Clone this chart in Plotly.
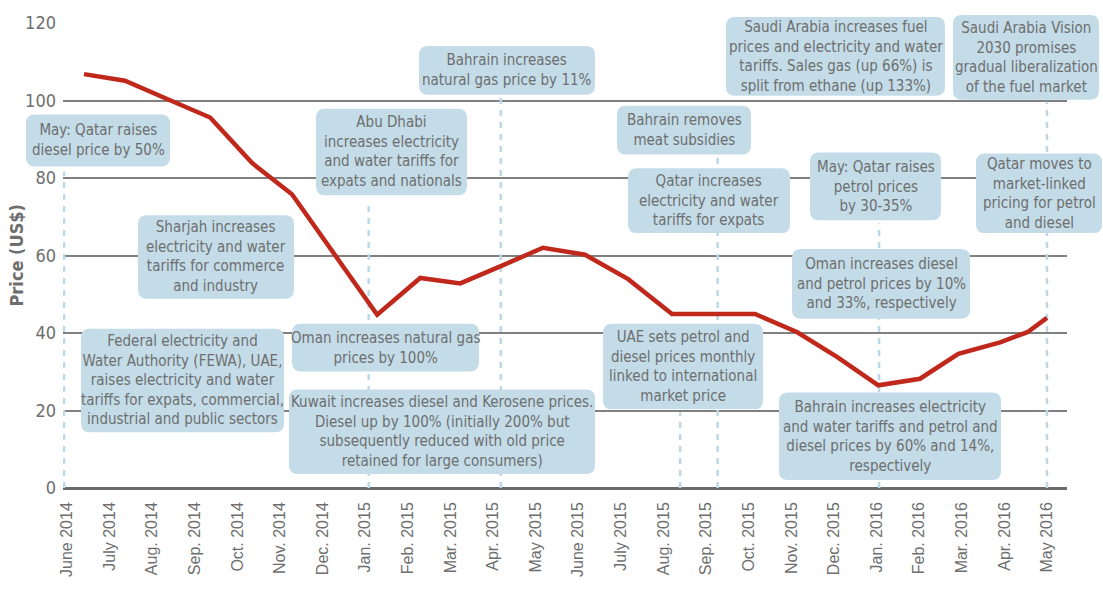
import plotly.graph_objects as go

# ---- data -------------------------------------------------------------
month_labels = [
    "June 2014", "July 2014", "Aug. 2014", "Sep. 2014", "Oct. 2014", "Nov. 2014",
    "Dec. 2014", "Jan. 2015", "Feb. 2015", "Mar. 2015", "Apr. 2015", "May 2015",
    "June 2015", "July 2015", "Aug. 2015", "Sep. 2015", "Oct. 2015", "Nov. 2015",
    "Dec. 2015", "Jan. 2016", "Feb. 2016", "Mar. 2016", "Apr. 2016", "May 2016",
]

# observation position (months after June 2014) and oil price, US$
obs_month = [0.40, 1.36, 2.35, 3.36, 4.34, 5.28, 6.33, 7.28, 8.29, 9.23, 10.21,
             11.17, 12.16, 13.17, 14.20, 15.17, 16.15, 17.14, 18.08, 19.04,
             20.02, 20.92, 21.90, 22.54, 23.00]
price = [106.8, 105.1, 100.4, 95.6, 83.9, 75.8, 59.5, 44.7, 54.2, 52.8, 57.4,
         62.0, 60.2, 53.9, 44.9, 44.9, 44.9, 40.2, 33.8, 26.5,
         28.2, 34.6, 37.6, 40.2, 43.9]

# policy event markers: month position and height of the guide line
event_month = [-0.07, 7.08, 10.18, 14.39, 15.27, 19.06, 23.00]
event_top = [81.7, 73.2, 101.0, 19.5, 85.6, 68.3, 99.7]

y_ticks = [0, 20, 40, 60, 80, 100, 120]

# callout texts with their box extents (left, right, top, bottom in px)
callouts = [
    ("May: Qatar raises<br>diesel price by 50%", (26, 170, 113, 165)),
    ("Sharjah increases<br>electricity and water<br>tariffs for commerce<br>and industry", (138, 294, 214, 298)),
    ("Federal electricity and<br>Water Authority (FEWA), UAE,<br>raises electricity and water<br>"
     "tariffs for expats, commercial,<br>industrial and public sectors", (81, 284, 328, 432)),
    ("Abu Dhabi<br>increases electricity<br>and water tariffs for<br>expats and nationals", (316, 467, 107, 194)),
    ("Bahrain increases<br>natural gas price by 11%", (419, 595, 44, 93)),
    ("Oman increases natural gas<br>prices by 100%", (292, 479, 323, 371)),
    ("Kuwait increases diesel and Kerosene prices.<br>Diesel up by 100% (initially 200% but<br>"
     "subsequently reduced with old price<br>retained for large consumers)", (289, 595, 389, 474)),
    ("Bahrain removes<br>meat subsidies", (617, 751, 104, 153)),
    ("Qatar increases<br>electricity and water<br>tariffs for expats", (628, 790, 167, 232)),
    ("Saudi Arabia increases fuel<br>prices and electricity and water<br>"
     "tariffs. Sales gas (up 66%) is<br>split from ethane (up 133%)", (726, 945, 15, 94)),
    ("Saudi Arabia Vision<br>2030 promises<br>gradual liberalization<br>of the fuel market", (953, 1099, 13, 98)),
    ("May: Qatar raises<br>petrol prices<br>by 30-35%", (810, 941, 151, 219)),
    ("Qatar moves to<br>market-linked<br>pricing for petrol<br>and diesel", (976, 1102, 152, 232)),
    ("Oman increases diesel<br>and petrol prices by 10%<br>and 33%, respectively", (792, 970, 248, 318)),
    ("UAE sets petrol and<br>diesel prices monthly<br>linked to international<br>market price", (603, 763, 323, 409)),
    ("Bahrain increases electricity<br>and water tariffs and petrol and<br>"
     "diesel prices by 60% and 14%,<br>respectively", (779, 1001, 392, 480)),
]

# ---- layout geometry ---------------------------------------------------
W, H = 1103, 595
ML, MR, MT, MB = 63, 36, 21, 107
PW, PH = W - ML - MR, H - MT - MB

RED = "#c0281c"
GRID = "#808080"
BOX = "#c3dce8"
GUIDE = "#bcd8e6"
TXT = "#6e6e6e"
NARROW = "Liberation Sans Narrow, Arial Narrow, DejaVu Sans Condensed, sans-serif"
SANS = "Liberation Sans, Arial, sans-serif"


def px(xp):
    return (xp - ML) / PW


def py(yp):
    return (H - MB - yp) / PH


def rounded_box(x0, x1, top, bottom, r=9):
    rx, ry = r / PW, r / PH
    a, b = px(x0), px(x1)
    lo, hi = py(bottom), py(top)
    return (f"M {a + rx},{lo} L {b - rx},{lo} Q {b},{lo} {b},{lo + ry} "
            f"L {b},{hi - ry} Q {b},{hi} {b - rx},{hi} L {a + rx},{hi} "
            f"Q {a},{hi} {a},{hi - ry} L {a},{lo + ry} Q {a},{lo} {a + rx},{lo} Z")


fig = go.Figure()
fig.add_trace(go.Scatter(
    x=obs_month, y=price, mode="lines",
    line=dict(color=RED, width=4.5), hoverinfo="skip", showlegend=False,
))

shapes = []
for m, top in zip(event_month, event_top):
    shapes.append(dict(type="line", xref="x", yref="y", x0=m, x1=m, y0=0, y1=top,
                       line=dict(color=GUIDE, width=2.5, dash="6px,6px"), layer="between"))

annotations = []
for text, (x0, x1, top, bottom) in callouts:
    shapes.append(dict(type="path", xref="paper", yref="paper",
                       path=rounded_box(x0, x1, top, bottom),
                       fillcolor=BOX, line=dict(width=0), layer="above"))
    annotations.append(dict(
        xref="paper", yref="paper", x=px((x0 + x1) / 2), y=py((top + bottom) / 2),
        text=text, showarrow=False, align="center", xanchor="center", yanchor="middle",
        font=dict(family=NARROW, size=15, color=TXT),
    ))

annotations.append(dict(
    xref="paper", yref="paper", x=px(16), y=0.5, text="<b>Price (US$)</b>",
    textangle=-90, showarrow=False, xanchor="center", yanchor="middle",
    font=dict(family=NARROW, size=18, color=TXT),
))

fig.update_layout(
    width=W, height=H,
    margin=dict(l=ML, r=MR, t=MT, b=MB, pad=0),
    paper_bgcolor="white", plot_bgcolor="white",
    shapes=shapes, annotations=annotations,
    xaxis=dict(
        range=[-0.094, 23.47], tickmode="array",
        tickvals=list(range(len(month_labels))), ticktext=month_labels,
        tickangle=-90, showgrid=False, zeroline=False,
        showline=False, ticks="", ticklabelstandoff=10,
        tickfont=dict(family=SANS, size=16, color=TXT),
    ),
    yaxis=dict(
        range=[0, 120], tickmode="array", tickvals=y_ticks,
        showgrid=True, gridcolor=GRID, gridwidth=1.5,
        zeroline=True, zerolinecolor="#6a6a6a", zerolinewidth=2.5,
        showline=False, ticks="", ticklabelstandoff=6,
        tickfont=dict(family=NARROW, size=18, color=TXT),
    ),
)

fig.write_html("out.html")
